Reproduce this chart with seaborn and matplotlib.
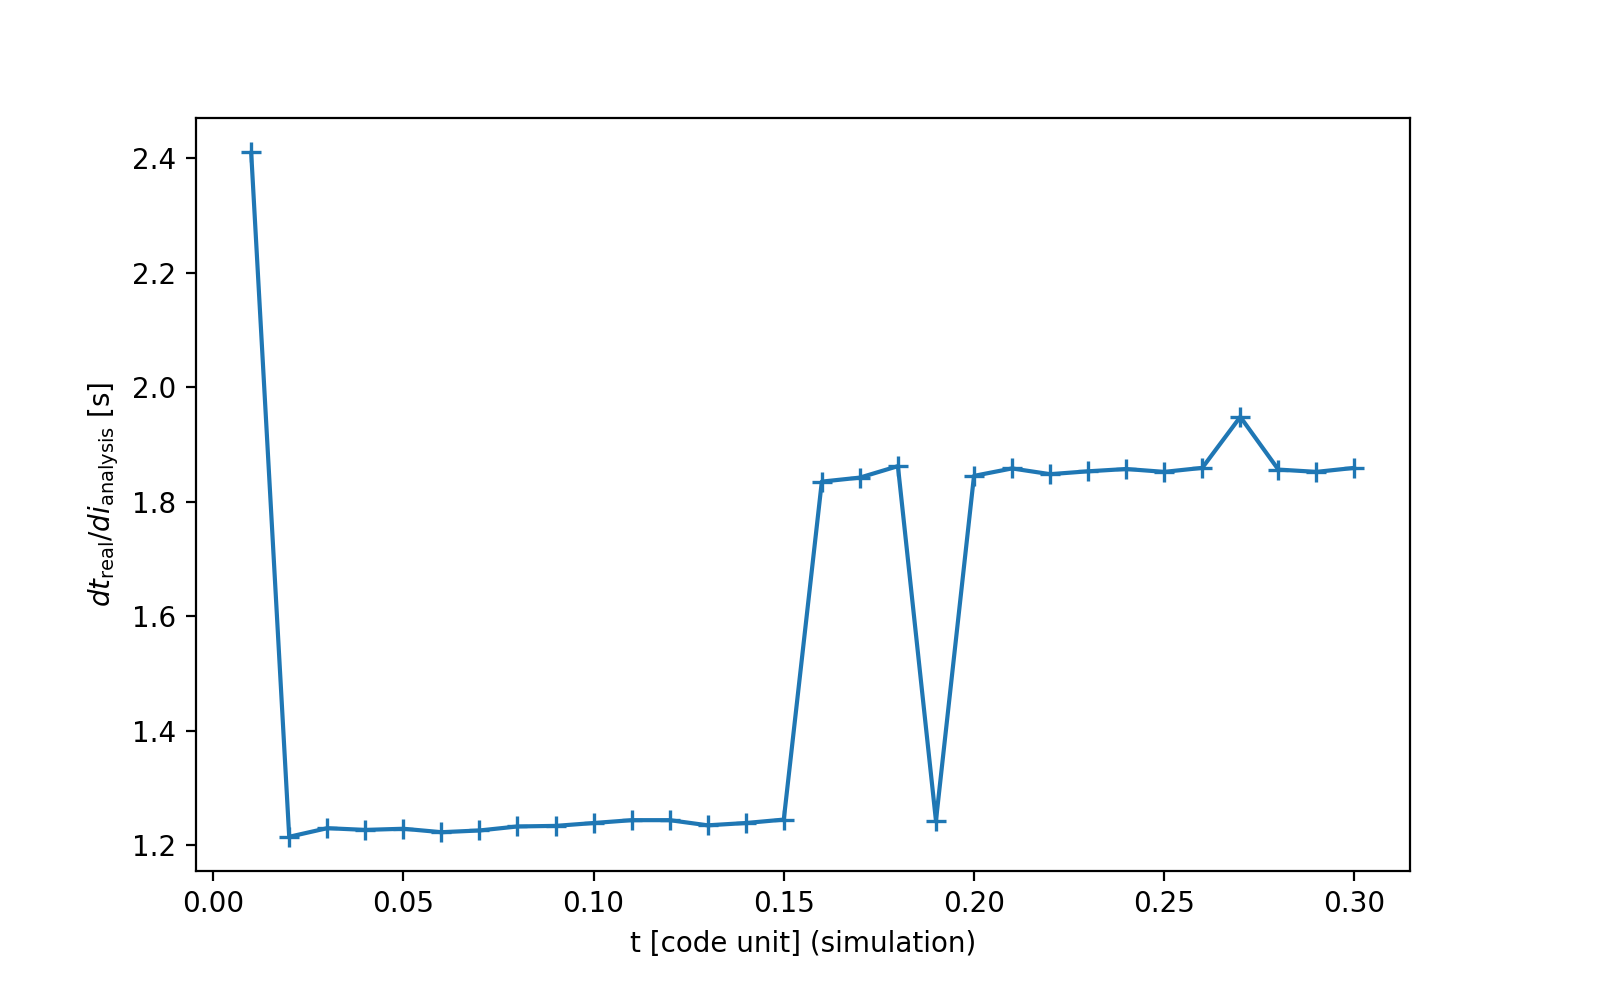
import matplotlib
matplotlib.use("Agg")
import matplotlib.pyplot as plt
import seaborn as sns
import pandas as pd

# Data
t = [0.01, 0.02, 0.03, 0.04, 0.05, 0.06, 0.07, 0.08, 0.09, 0.10,
     0.11, 0.12, 0.13, 0.14, 0.15, 0.16, 0.17, 0.18, 0.19, 0.20,
     0.21, 0.22, 0.23, 0.24, 0.25, 0.26, 0.27, 0.28, 0.29, 0.30]
dt = [2.41, 1.215, 1.230, 1.227, 1.229, 1.223, 1.226, 1.233, 1.234, 1.239,
      1.244, 1.244, 1.235, 1.239, 1.245, 1.835, 1.842, 1.862, 1.243, 1.845,
      1.858, 1.848, 1.853, 1.857, 1.852, 1.859, 1.948, 1.856, 1.852, 1.859]

data = pd.DataFrame({"t": t, "dt": dt})

sns.set_style("ticks", rc={"text.color": "black", "axes.labelcolor": "black",
                           "xtick.color": "black", "ytick.color": "black",
                           "axes.edgecolor": "black"})
plt.rcParams['font.family'] = ['DejaVu Sans']
fig = plt.figure(figsize=(8, 5), dpi=200)
ax = fig.add_axes([0.1225, 0.129, 0.7585, 0.753])

sns.lineplot(data=data, x="t", y="dt", marker="+", markersize=7,
             markeredgewidth=1.2, markeredgecolor="#1f77b4",
             color="#1f77b4", linewidth=1.5, ax=ax)

ax.set_xlabel("t [code unit] (simulation)")
ax.set_ylabel(r"$dt_{\rm real}/di_{\rm analysis}$ [s]")
ax.set_xticks([0.00, 0.05, 0.10, 0.15, 0.20, 0.25, 0.30])
ax.set_xticklabels(["0.00", "0.05", "0.10", "0.15", "0.20", "0.25", "0.30"])

fig.savefig("out.png", dpi=200)
